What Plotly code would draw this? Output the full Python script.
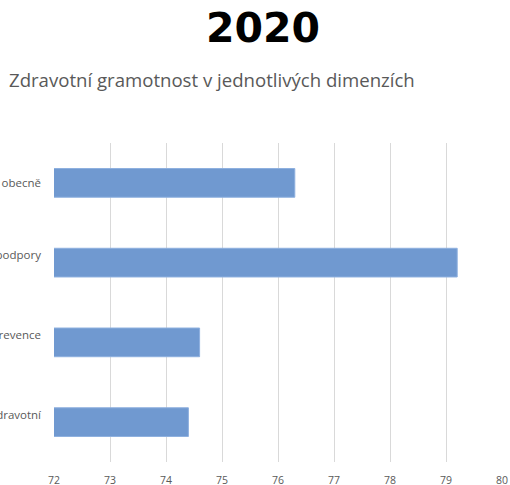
import plotly.graph_objects as go

# Dimensions of health literacy (top to bottom) and their scores for 2020
categories = [
    "Zdravotní gramotnost obecně",
    "Zdravotní gramotnost v oblasti podpory<br>zdraví" + "\u00a0" * 18,
    "Zdravotní gramotnost v oblasti prevence<br>nemocí" + "\u00a0" * 18,
    "Zdravotní gramotnost v oblasti zdravotní<br>péče" + "\u00a0" * 40,
]
values = [76.3, 79.2, 74.6, 74.4]
x_ticks = [72, 73, 74, 75, 76, 77, 78, 79, 80]

GRAY = "#595959"
FONT = "Open Sans"

W, H = 510, 485
ML, MR, MT, MB = 54, 8, 143, 23

fig = go.Figure(
    go.Bar(
        x=values,
        y=categories,
        orientation="h",
        marker=dict(color="#7099d0", line=dict(color="#8eb0df", width=1)),
        hoverinfo="skip",
    )
)


def to_paper(px, py):
    """Convert pixel coordinates of the page to paper fractions."""
    return (px - ML) / (W - ML - MR), (H - MB - py) / (H - MT - MB)


tx, ty = to_paper(263, 28)
sx, sy = to_paper(7, 79)

fig.update_layout(
    width=W,
    height=H,
    margin=dict(l=ML, r=MR, t=MT, b=MB),
    paper_bgcolor="white",
    plot_bgcolor="white",
    showlegend=False,
    bargap=0.64,
    font=dict(family=FONT, color=GRAY),
    annotations=[
        dict(
            text="<b>2020</b>",
            x=tx, y=ty, xref="paper", yref="paper",
            showarrow=False,
            font=dict(family="DejaVu Sans", size=41, color="black"),
            xanchor="center", yanchor="middle",
        ),
        dict(
            text="Zdravotní gramotnost v jednotlivých dimenzích",
            x=sx, y=sy, xref="paper", yref="paper",
            showarrow=False,
            font=dict(family=FONT, size=18.6, color=GRAY),
            xanchor="left", yanchor="middle",
        ),
    ],
)

fig.update_xaxes(
    range=[72, 80],
    tickvals=x_ticks,
    ticktext=[str(t) for t in x_ticks],
    showgrid=True,
    gridcolor="#d9d9d9",
    gridwidth=1,
    zeroline=False,
    showline=False,
    ticks="",
    automargin=False,
    tickfont=dict(family=FONT, size=10.5, color=GRAY),
    ticklabelstandoff=10,
    fixedrange=True,
)

fig.update_yaxes(
    categoryorder="array",
    categoryarray=categories,
    autorange="reversed",
    showgrid=False,
    zeroline=False,
    showline=False,
    ticks="",
    automargin=False,
    tickfont=dict(family=FONT, size=11.5, color=GRAY),
    ticklabelstandoff=12,
    fixedrange=True,
)

fig.write_html("out.html")
